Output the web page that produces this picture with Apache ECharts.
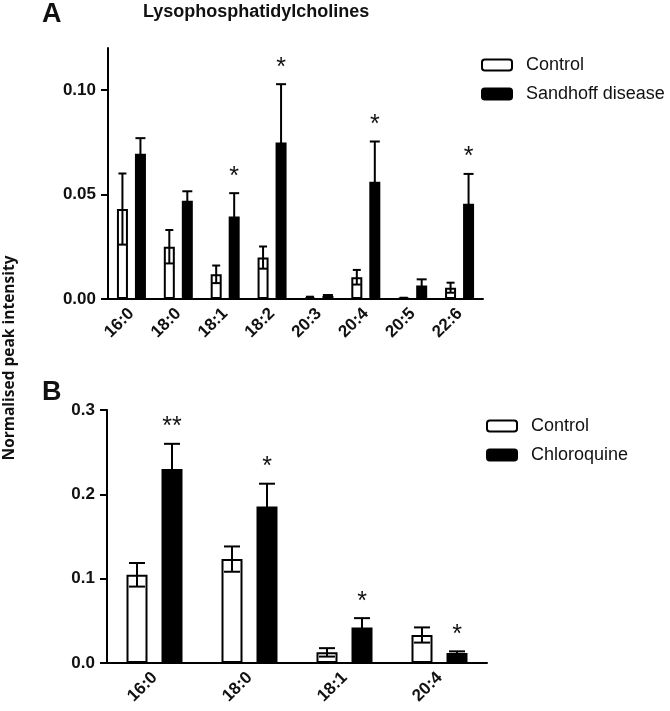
<!DOCTYPE html>
<html>
<head>
<meta charset="utf-8">
<script src="https://cdn.jsdelivr.net/npm/echarts@6/dist/echarts.min.js"></script>
<style>html,body{margin:0;padding:0;background:#fff;}#c{width:670px;height:711px;}</style>
</head>
<body>
<div id="c"></div>
<script>
// ---- Data ----
const categoriesA = ['16:0','18:0','18:1','18:2','20:3','20:4','20:5','22:6'];
const controlA = [0.043, 0.025, 0.0118, 0.0198, 0.0008, 0.0104, 0.0004, 0.0054];
const controlErrA = [0.017, 0.008, 0.0042, 0.0053, 0.0003, 0.0035, 0.0002, 0.0024];
const sandhoffA = [0.0694, 0.047, 0.0394, 0.0748, 0.0015, 0.0561, 0.0064, 0.0455];
const sandhoffErrA = [0.0075, 0.0045, 0.0112, 0.0279, 0.0004, 0.0192, 0.003, 0.0143];
const starsA = ['', '', '*', '*', '', '*', '', '*'];
const ticksA = [0, 0.05, 0.10];

const categoriesB = ['16:0','18:0','18:1','20:4'];
const controlB = [0.1046, 0.1232, 0.0126, 0.0332];
const controlErrB = [0.014, 0.015, 0.005, 0.009];
const chloroquineB = [0.2299, 0.1856, 0.0422, 0.0118];
const chloroquineErrB = [0.030, 0.027, 0.011, 0.002];
const starsB = ['**', '*', '*', '*'];
const ticksB = [0, 0.1, 0.2, 0.3];

// ---- Styles ----
const FONT = 'Liberation Sans, Arial, sans-serif';
const barWA = 11, gapA = 7, capA = 8;
const barWB = 21, gapB = 14, capB = 16;

function errSeries(name, vals, errs, stars, xi, offset, cap, lowerCap) {
  return {
    type: 'custom',
    name: name,
    xAxisIndex: xi, yAxisIndex: xi,
    z: 5,
    silent: true,
    data: vals.map((v, i) => [i, v, errs[i]]),
    encode: { x: 0, y: 1 },
    renderItem: function (params, api) {
      const i = api.value(0), m = api.value(1), e = api.value(2);
      const star = stars ? stars[params.dataIndex] : '';
      const top = api.coord([i, m + e]);
      const bot = api.coord([i, Math.max(0, m - e)]);
      const x = top[0] + offset;
      const st = { stroke: '#000', lineWidth: 2 };
      const ch = [
        { type: 'line', shape: { x1: x, y1: top[1], x2: x, y2: bot[1] }, style: st },
        { type: 'line', shape: { x1: x - cap / 2, y1: top[1], x2: x + cap / 2, y2: top[1] }, style: st }
      ];
      if (lowerCap) ch.push({ type: 'line', shape: { x1: x - cap / 2, y1: bot[1], x2: x + cap / 2, y2: bot[1] }, style: st });
      if (star) ch.push({ type: 'text', x: x, y: top[1] - 4, style: { text: star, fill: '#111', font: '25px ' + FONT, textAlign: 'center', textVerticalAlign: 'bottom' } });
      return { type: 'group', children: ch };
    }
  };
}

const axisLine = { show: true, lineStyle: { color: '#000', width: 2 } };
const legendText = { fontFamily: FONT, fontSize: 18, color: '#111', padding: [0, 0, 0, 9] };
const xLabel = { rotate: 45, margin: 12, color: '#111', fontFamily: FONT, fontSize: 17, fontWeight: 'bold' };
const chart = echarts.init(document.getElementById('c'), null, { renderer: 'canvas' });
chart.setOption({
  animation: false,
  backgroundColor: '#fff',
  title: [
    { text: 'A', left: 37, top: -4, textStyle: { fontFamily: FONT, fontSize: 27, fontWeight: 'bold', color: '#111' } },
    { text: 'Lysophosphatidylcholines', left: 138, top: -2, textStyle: { fontFamily: FONT, fontSize: 18, fontWeight: 'bold', color: '#111' } },
    { text: 'B', left: 37, top: 374, textStyle: { fontFamily: FONT, fontSize: 27, fontWeight: 'bold', color: '#111' } }
  ],
  graphic: [{
    type: 'text', x: 10, y: 358, rotation: Math.PI / 2,
    style: { text: 'Normalised peak intensity', font: 'bold 15.5px "Open Sans", sans-serif', fill: '#111', textAlign: 'center', textVerticalAlign: 'middle' }
  }],
  legend: [
    { data: ['Control', 'Sandhoff disease'], orient: 'vertical', left: 476, top: 51, icon: 'roundRect', itemWidth: 30, itemHeight: 11, itemGap: 11,
      itemStyle: { borderColor: '#000', borderWidth: 2 }, textStyle: legendText },
    { data: ['Control', 'Chloroquine'], orient: 'vertical', left: 481, top: 412, icon: 'roundRect', itemWidth: 30, itemHeight: 11, itemGap: 11,
      itemStyle: { borderColor: '#000', borderWidth: 2 }, textStyle: legendText }
  ],
  grid: [
    { left: 108, right: 187, top: 48, bottom: 412 },
    { left: 107, right: 183, top: 410, bottom: 48 }
  ],
  xAxis: [
    { type: 'category', gridIndex: 0, data: categoriesA, axisLine: axisLine, axisTick: { show: false }, axisLabel: xLabel },
    { type: 'category', gridIndex: 1, data: categoriesB, axisLine: axisLine, axisTick: { show: false }, axisLabel: xLabel }
  ],
  yAxis: [
    { type: 'value', gridIndex: 0, min: 0, max: 0.12, splitLine: { show: false }, axisLine: axisLine,
      axisTick: { show: true, length: 7, lineStyle: { color: '#000', width: 2 }, customValues: ticksA },
      axisLabel: { customValues: ticksA, formatter: v => v.toFixed(2), margin: 12, color: '#111', fontFamily: FONT, fontSize: 17, fontWeight: 'bold' } },
    { type: 'value', gridIndex: 1, min: 0, max: 0.3, interval: 0.1, splitLine: { show: false }, axisLine: axisLine,
      axisTick: { show: true, length: 7, lineStyle: { color: '#000', width: 2 }, customValues: ticksB },
      axisLabel: { customValues: ticksB, formatter: v => v.toFixed(1), margin: 12, color: '#111', fontFamily: FONT, fontSize: 17, fontWeight: 'bold' } }
  ],
  series: [
    { name: 'Control', type: 'bar', xAxisIndex: 0, yAxisIndex: 0, data: controlA, barWidth: barWA, barGap: (gapA / barWA * 100) + '%',
      itemStyle: { color: '#fff', borderColor: '#000', borderWidth: 2 } },
    { name: 'Sandhoff disease', type: 'bar', xAxisIndex: 0, yAxisIndex: 0, data: sandhoffA, barWidth: barWA,
      itemStyle: { color: '#000', borderColor: '#000', borderWidth: 2 } },
    { name: 'Control', type: 'bar', xAxisIndex: 1, yAxisIndex: 1, data: controlB, barWidth: barWB, barGap: (gapB / barWB * 100) + '%',
      itemStyle: { color: '#fff', borderColor: '#000', borderWidth: 2 } },
    { name: 'Chloroquine', type: 'bar', xAxisIndex: 1, yAxisIndex: 1, data: chloroquineB, barWidth: barWB,
      itemStyle: { color: '#000', borderColor: '#000', borderWidth: 2 } },
    errSeries('errCtrlA', controlA, controlErrA, null, 0, -(barWA + gapA) / 2, capA, true),
    errSeries('errSdA', sandhoffA, sandhoffErrA, starsA, 0, (barWA + gapA) / 2, capA + 2, false),
    errSeries('errCtrlB', controlB, controlErrB, null, 1, -(barWB + gapB) / 2, capB, true),
    errSeries('errCqB', chloroquineB, chloroquineErrB, starsB, 1, (barWB + gapB) / 2, capB, false)
  ]
});
</script>
</body>
</html>
